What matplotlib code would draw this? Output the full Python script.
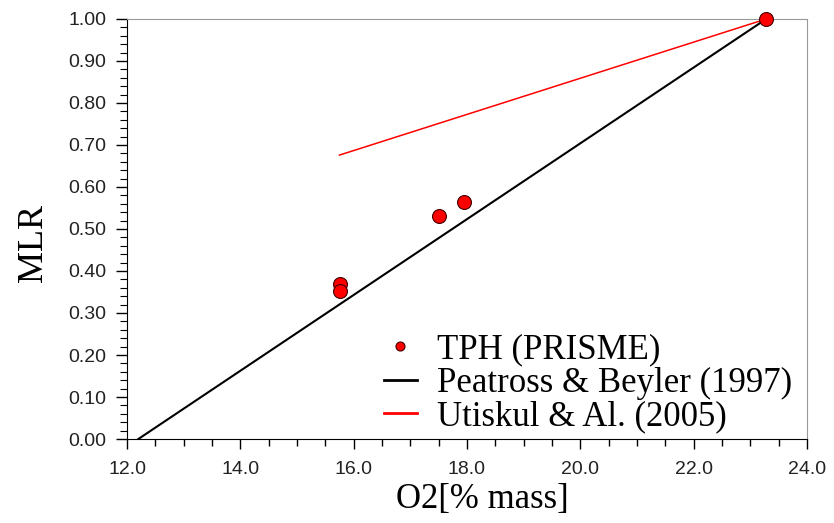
import matplotlib.pyplot as plt
from matplotlib.ticker import MultipleLocator, FormatStrFormatter

# datos
o2_tph = [15.75, 15.75, 17.50, 17.95, 23.28]
mlr_tph = [0.370, 0.352, 0.530, 0.565, 1.000]

o2_peatross = [12.2, 23.28]
mlr_peatross = [0.0, 1.0]

o2_utiskul = [15.75, 23.28]
mlr_utiskul = [0.676, 1.0]

fig = plt.figure(figsize=(8.34, 5.23), dpi=100)
ax = fig.add_axes([0.1523, 0.1606, 0.8153, 0.8031])

ax.plot(o2_peatross, mlr_peatross, color="black", lw=1.5, label="Peatross & Beyler (1997)")
ax.plot(o2_utiskul, mlr_utiskul, color="red", lw=1.1, label="Utiskul & Al. (2005)")
ax.plot(o2_tph, mlr_tph, "o", color="red", mec="#400000", mew=0.8, ms=10,
        label="TPH (PRISME)", clip_on=False, zorder=5)

ax.set_xlim(12, 24)
ax.set_ylim(0, 1)
ax.xaxis.set_major_locator(MultipleLocator(2))
ax.xaxis.set_minor_locator(MultipleLocator(0.5))
ax.yaxis.set_major_locator(MultipleLocator(0.1))
ax.yaxis.set_minor_locator(MultipleLocator(0.02))
ax.xaxis.set_major_formatter(FormatStrFormatter("%.1f"))
ax.yaxis.set_major_formatter(FormatStrFormatter("%.2f"))
ax.tick_params(axis="x", which="major", direction="out", length=7, width=1, labelsize=14, pad=9)
ax.tick_params(axis="x", which="minor", direction="out", length=5, width=1)
ax.tick_params(axis="y", which="major", direction="out", length=8, width=1, labelsize=14, pad=7)
ax.tick_params(axis="y", which="minor", direction="out", length=5, width=0.8)
for lab in ax.get_xticklabels() + ax.get_yticklabels():
    lab.set_family("Liberation Sans")
    lab.set_color("#222222")

ax.spines["top"].set_color("#999999")
ax.spines["right"].set_color("#999999")

ax.set_xlabel("O2[% mass]", family="Liberation Serif", fontsize=25)
ax.xaxis.set_label_coords(0.522, -0.104)
ax.set_ylabel("MLR", family="Liberation Serif", fontsize=26)
ax.yaxis.set_label_coords(-0.113, 0.467)

h, l = ax.get_legend_handles_labels()
leg = fig.legend([h[2], h[0], h[1]], [l[2], l[0], l[1]], loc="upper left",
                 bbox_to_anchor=(384 / 834, 1 - 333 / 523), frameon=False,
                 prop={"family": "Liberation Serif", "size": 25}, handlelength=0.95,
                 handletextpad=0.58, borderpad=0, borderaxespad=0,
                 labelspacing=0.02, markerscale=0.65)
for ln in leg.get_lines()[1:]:
    ln.set_linewidth(2)

fig.savefig("out.png", dpi=100)
